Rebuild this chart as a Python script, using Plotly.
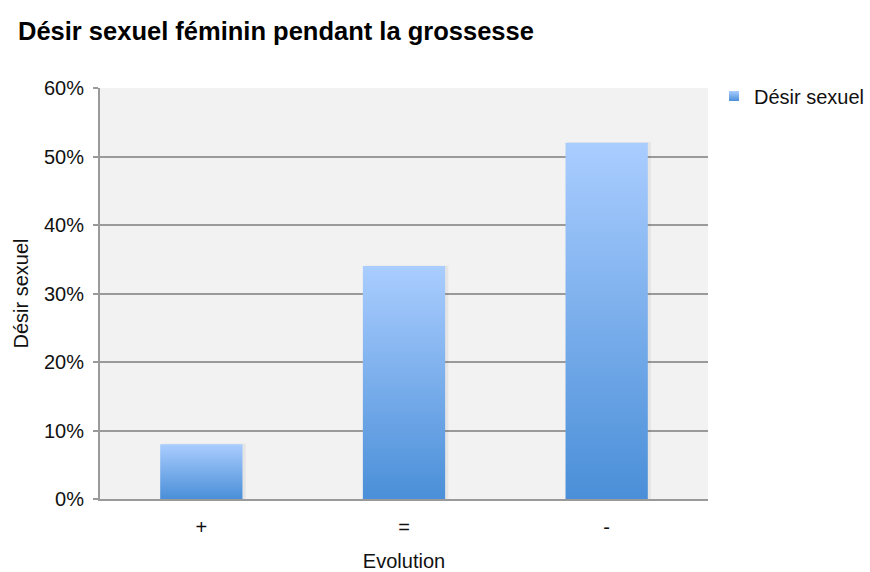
import plotly.graph_objects as go

# Evolution of female sexual desire during pregnancy
categories = ["+", "=", "-"]
values = [8, 34, 52]          # percent
series_name = "Désir sexuel"
y_ticks = [0, 10, 20, 30, 40, 50, 60]
y_tick_labels = [f"{v}%" for v in y_ticks]

FONT = "Liberation Sans, Arial, Helvetica, sans-serif"
BAR_HALF = 0.203
GRID = "#9a9a9a"
BLUE_DARK = "#4a8fd8"
BLUE_LIGHT = "#aacdff"

fig = go.Figure()

for i, (cat, val) in enumerate(zip(categories, values)):
    x0, x1 = i - BAR_HALF, i + BAR_HALF
    # soft drop shadow to the right of each bar
    fig.add_trace(go.Scatter(
        x=[x0 + 0.01, x1 + 0.016, x1 + 0.016, x0 + 0.01, x0 + 0.01],
        y=[0, 0, val + 0.1, val + 0.1, 0],
        fill="toself", mode="none",
        fillcolor="rgba(0,0,0,0.05)",
        showlegend=False, hoverinfo="skip",
    ))
    # bar body with vertical gradient from light top to deeper blue bottom
    fig.add_trace(go.Scatter(
        x=[x0, x1, x1, x0, x0],
        y=[0, 0, val, val, 0],
        fill="toself", mode="none",
        fillgradient=dict(
            type="vertical",
            colorscale=[[0, BLUE_DARK], [1, BLUE_LIGHT]],
        ),
        name=series_name,
        legendgroup="desir",
        showlegend=False,
        hovertemplate=f"{cat}: {val}%<extra></extra>",
    ))

# legend entry: small gradient square
fig.add_trace(go.Scatter(
    x=[None], y=[None], mode="markers",
    marker=dict(symbol="square", size=10, color=BLUE_LIGHT,
                gradient=dict(type="vertical", color=BLUE_DARK)),
    name=series_name, legendgroup="desir", showlegend=True,
))

fig.update_layout(
    width=870, height=572,
    margin=dict(l=100, r=162, t=88, b=73, autoexpand=False),
    paper_bgcolor="white",
    plot_bgcolor="#f2f2f2",
    font=dict(family=FONT, size=20, color="#111111"),
    title=dict(
        text="<b>Désir sexuel féminin pendant la grossesse</b>",
        x=18 / 870, xanchor="left", xref="container",
        y=1 - 31 / 572, yanchor="middle", yref="container",
        font=dict(family=FONT, size=25.5, color="#000000"),
    ),
    showlegend=True,
    legend=dict(
        x=714 / 870, xanchor="left", xref="container",
        y=1 - 96 / 572, yanchor="middle", yref="container",
        font=dict(family=FONT, size=20, color="#111111"),
        bgcolor="rgba(0,0,0,0)",
        itemwidth=30,
    ),
)

fig.update_xaxes(
    range=[-0.5, 2.5],
    tickmode="array", tickvals=list(range(len(categories))), ticktext=categories,
    showgrid=False, zeroline=False,
    showline=True, linecolor=GRID, linewidth=2,
    ticks="", ticklabelstandoff=9,
    tickfont=dict(family=FONT, size=20, color="#111111"),
    title=dict(text="Evolution", standoff=18,
               font=dict(family=FONT, size=20, color="#111111")),
    fixedrange=True,
)

fig.update_yaxes(
    range=[0, 60],
    tickmode="array", tickvals=y_ticks, ticktext=y_tick_labels,
    showgrid=True, gridcolor=GRID, gridwidth=2,
    zeroline=False,
    showline=True, linecolor=GRID, linewidth=2,
    ticks="outside", ticklen=5, tickcolor=GRID, tickwidth=2,
    ticklabelstandoff=5,
    tickfont=dict(family=FONT, size=20, color="#111111"),
    title=dict(text="Désir sexuel", standoff=10,
               font=dict(family=FONT, size=20, color="#111111")),
    fixedrange=True,
)

fig.write_html("out.html")
